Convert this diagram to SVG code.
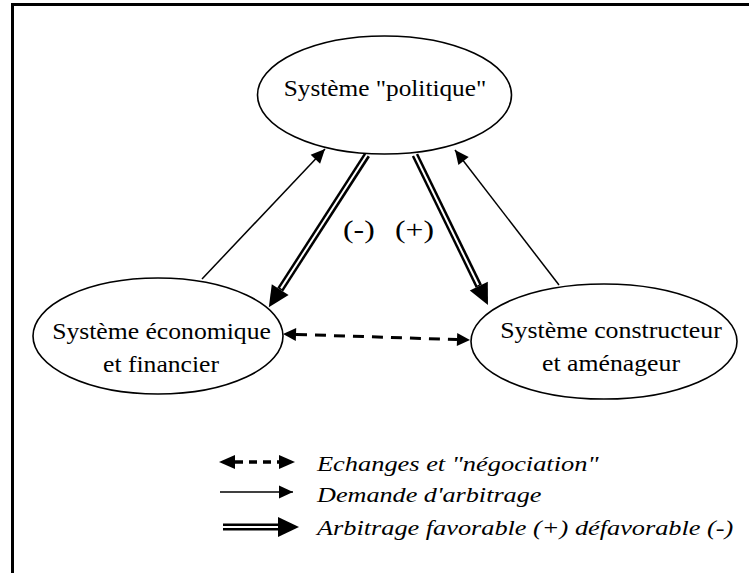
<svg xmlns="http://www.w3.org/2000/svg" width="749" height="573" viewBox="0 0 749 573">
  <style>
    .node { fill: #ffffff; stroke: #000000; stroke-width: 1.6; }
    .thin { stroke: #000000; stroke-width: 1.5; fill: none; }
    .dbl-out { stroke: #000000; stroke-width: 7; fill: none; }
    .dbl-in { stroke: #ffffff; stroke-width: 2; fill: none; }
    .dash { stroke: #000000; stroke-width: 3; fill: none; stroke-dasharray: 11 8; }
    .frame { stroke: #000000; stroke-width: 3; fill: none; }
    text { font-family: 'Liberation Serif', 'Times New Roman', serif; fill: #000000; }
    .lbl { font-size: 23px; }
    .sign { font-size: 26px; }
    .leg { font-size: 22px; font-style: italic; }
  </style>
  <defs>
    <marker id="headThin" markerUnits="userSpaceOnUse" viewBox="-14 -7 14 14" refX="0" refY="0" markerWidth="14" markerHeight="14" orient="auto" overflow="visible">
      <path d="M-14,-6.5 L0,0 L-14,6.5 Z" fill="#000000"/>
    </marker>
    <marker id="headDbl" markerUnits="userSpaceOnUse" viewBox="0 -10 21 20" refX="0" refY="0" markerWidth="21" markerHeight="20" orient="auto" overflow="visible">
      <path d="M0,-10 L21,0 L0,10 Z" fill="#000000"/>
    </marker>
    <marker id="headDash" markerUnits="userSpaceOnUse" viewBox="0 -7 13 14" refX="0" refY="0" markerWidth="13" markerHeight="14" orient="auto-start-reverse" overflow="visible">
      <path d="M0,-6.5 L13,0 L0,6.5 Z" fill="#000000"/>
    </marker>
    <marker id="headDashL" markerUnits="userSpaceOnUse" viewBox="0 -7 16 14" refX="0" refY="0" markerWidth="16" markerHeight="14" orient="auto-start-reverse" overflow="visible">
      <path d="M0,-7 L16,0 L0,7 Z" fill="#000000"/>
    </marker>
  </defs>

  <rect x="0" y="0" width="749" height="573" fill="#ffffff"/>
  <path class="frame" d="M12.5,573 V4.5 H749"/>

  <g id="connectors">
    <line class="thin" x1="202" y1="279" x2="325" y2="149" marker-end="url(#headThin)"/>
    <line class="thin" x1="559" y1="285" x2="455" y2="150" marker-end="url(#headThin)"/>
    <line class="dbl-out" x1="367" y1="155" x2="280.2" y2="289.6" marker-end="url(#headDbl)"/>
    <line class="dbl-in" x1="367.5" y1="154" x2="281" y2="288.4"/>
    <line class="dbl-out" x1="415" y1="155" x2="478.8" y2="286.1" marker-end="url(#headDbl)"/>
    <line class="dbl-in" x1="414.5" y1="154" x2="478.2" y2="285"/>
    <line class="dash" x1="296" y1="334.4" x2="457" y2="339.6" marker-start="url(#headDash)" marker-end="url(#headDash)"/>
    <text class="sign" transform="translate(343,238) scale(1.22,1)">(-)</text>
    <text class="sign" transform="translate(395,238) scale(1.22,1)">(+)</text>
  </g>

  <g id="node-politique">
    <ellipse class="node" cx="384.5" cy="95" rx="127" ry="59"/>
    <text class="lbl" text-anchor="middle" transform="translate(385,96) scale(1.1,1)">Système "politique"</text>
  </g>

  <g id="node-economique">
    <ellipse class="node" cx="158" cy="336" rx="125" ry="58"/>
    <text class="lbl" text-anchor="middle" transform="translate(161.5,339) scale(1.116,1)">Système économique</text>
    <text class="lbl" text-anchor="middle" transform="translate(161,372) scale(1.114,1)">et financier</text>
  </g>

  <g id="node-constructeur">
    <ellipse class="node" cx="604" cy="341.5" rx="133" ry="57.5"/>
    <text class="lbl" text-anchor="middle" transform="translate(611,338) scale(1.124,1)">Système constructeur</text>
    <text class="lbl" text-anchor="middle" transform="translate(611,371) scale(1.12,1)">et aménageur</text>
  </g>

  <g id="legend">
    <line stroke="#000000" stroke-width="3.5" stroke-dasharray="8 6" x1="235" y1="462" x2="279" y2="462" marker-start="url(#headDashL)" marker-end="url(#headDashL)"/>
    <text class="leg" transform="translate(317,471) scale(1.2,1)">Echanges et "négociation"</text>
    <line class="thin" x1="220" y1="492" x2="293" y2="492" marker-end="url(#headThin)"/>
    <text class="leg" transform="translate(317,502) scale(1.19,1)">Demande d'arbitrage</text>
    <line class="dbl-out" x1="223" y1="527" x2="278" y2="527" marker-end="url(#headDbl)"/>
    <line class="dbl-in" x1="222" y1="527" x2="278" y2="527"/>
    <text class="leg" transform="translate(317,535) scale(1.195,1)">Arbitrage favorable (+) défavorable (-)</text>
  </g>
</svg>
